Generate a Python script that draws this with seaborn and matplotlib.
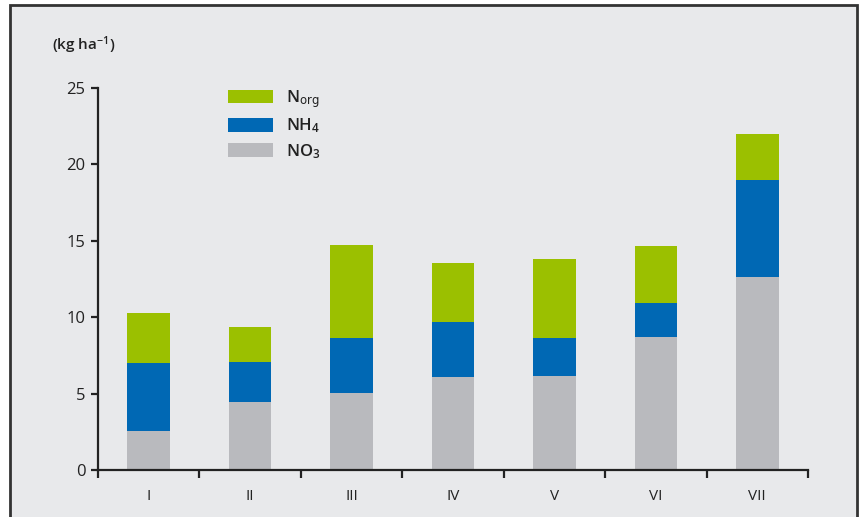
import matplotlib
matplotlib.use("Agg")
import matplotlib.pyplot as plt
from matplotlib.patches import Rectangle, Patch
import seaborn as sns
import pandas as pd
import numpy as np

categories = ["I", "II", "III", "IV", "V", "VI", "VII"]
no3 = [2.55, 4.45, 5.05, 6.1, 6.15, 8.7, 12.6]
nh4 = [4.45, 2.6, 3.6, 3.6, 2.5, 2.2, 6.4]
norg = [3.3, 2.3, 6.1, 3.85, 5.15, 3.75, 3.0]
series_labels = ["N$_{\\mathrm{org}}$", "NH$_4$", "NO$_3$"]
yticks = [0, 5, 10, 15, 20, 25]

c_norg = "#9bc000"
c_nh4 = "#0068b4"
c_no3 = "#b9babe"
bg = "#e8e9eb"
dark = "#222222"

sns.set_theme(style="white")
plt.rcParams["font.family"] = ["Open Sans", "DejaVu Sans"]
plt.rcParams["mathtext.default"] = "regular"

df = pd.DataFrame({"cat": categories, "no3": no3, "nh4": nh4, "norg": norg})
df["s2"] = df["no3"] + df["nh4"]
df["s3"] = df["s2"] + df["norg"]

fig = plt.figure(figsize=(8.61, 5.17), dpi=100, facecolor="white")
fig.patches.append(Rectangle((10 / 861, -0.05), (857 - 10) / 861, 1 - 5 / 517 + 0.05,
                             transform=fig.transFigure, facecolor=bg,
                             edgecolor="#333333", linewidth=2, zorder=-10))
ax = fig.add_axes([98 / 861, 47 / 517, (808 - 98) / 861, (470 - 88) / 517])
ax.set_facecolor("none")

w = 0.42
sns.barplot(data=df, x="cat", y="s3", color=c_norg, width=w, saturation=1, ax=ax,
            order=categories, linewidth=0)
sns.barplot(data=df, x="cat", y="s2", color=c_nh4, width=w, saturation=1, ax=ax,
            order=categories, linewidth=0)
sns.barplot(data=df, x="cat", y="no3", color=c_no3, width=w, saturation=1, ax=ax,
            order=categories, linewidth=0)

ax.set_xlim(-0.5, len(categories) - 0.5)
ax.set_ylim(0, 25)
ax.set_yticks(yticks)
ax.set_xlabel("")
ax.set_ylabel("")
for s in ["top", "right"]:
    ax.spines[s].set_visible(False)
for s in ["left", "bottom"]:
    ax.spines[s].set_color(dark)
    ax.spines[s].set_linewidth(1.6)

ax.tick_params(axis="y", direction="out", length=5, width=1.6, color=dark,
               labelsize=12, labelcolor=dark, pad=4, left=True)
ax.tick_params(axis="x", which="major", length=0, labelsize=11, labelcolor=dark, pad=14)
ax.set_xticks(np.arange(-0.5, len(categories), 1.0), minor=True)
ax.tick_params(axis="x", which="minor", direction="out", length=6, width=1.6,
               color=dark, bottom=True)

fig.text(52 / 861, 1 - 45 / 517, "(kg ha$^{-1}$)", fontsize=11, color=dark,
         ha="left", va="center", fontweight="semibold")

handles = [Patch(facecolor=c, edgecolor="none") for c in (c_norg, c_nh4, c_no3)]
leg = ax.legend(handles, series_labels, loc="upper left",
                bbox_to_anchor=((228 - 98) / 710, 1.0),
                frameon=False, fontsize=12, handlelength=2.7, handleheight=0.9,
                labelspacing=0.4, handletextpad=0.75, borderaxespad=0, borderpad=0,
                prop={"weight": "semibold", "size": 12})
for t in leg.get_texts():
    t.set_color(dark)

fig.savefig("out.png", dpi=100, facecolor="white")
